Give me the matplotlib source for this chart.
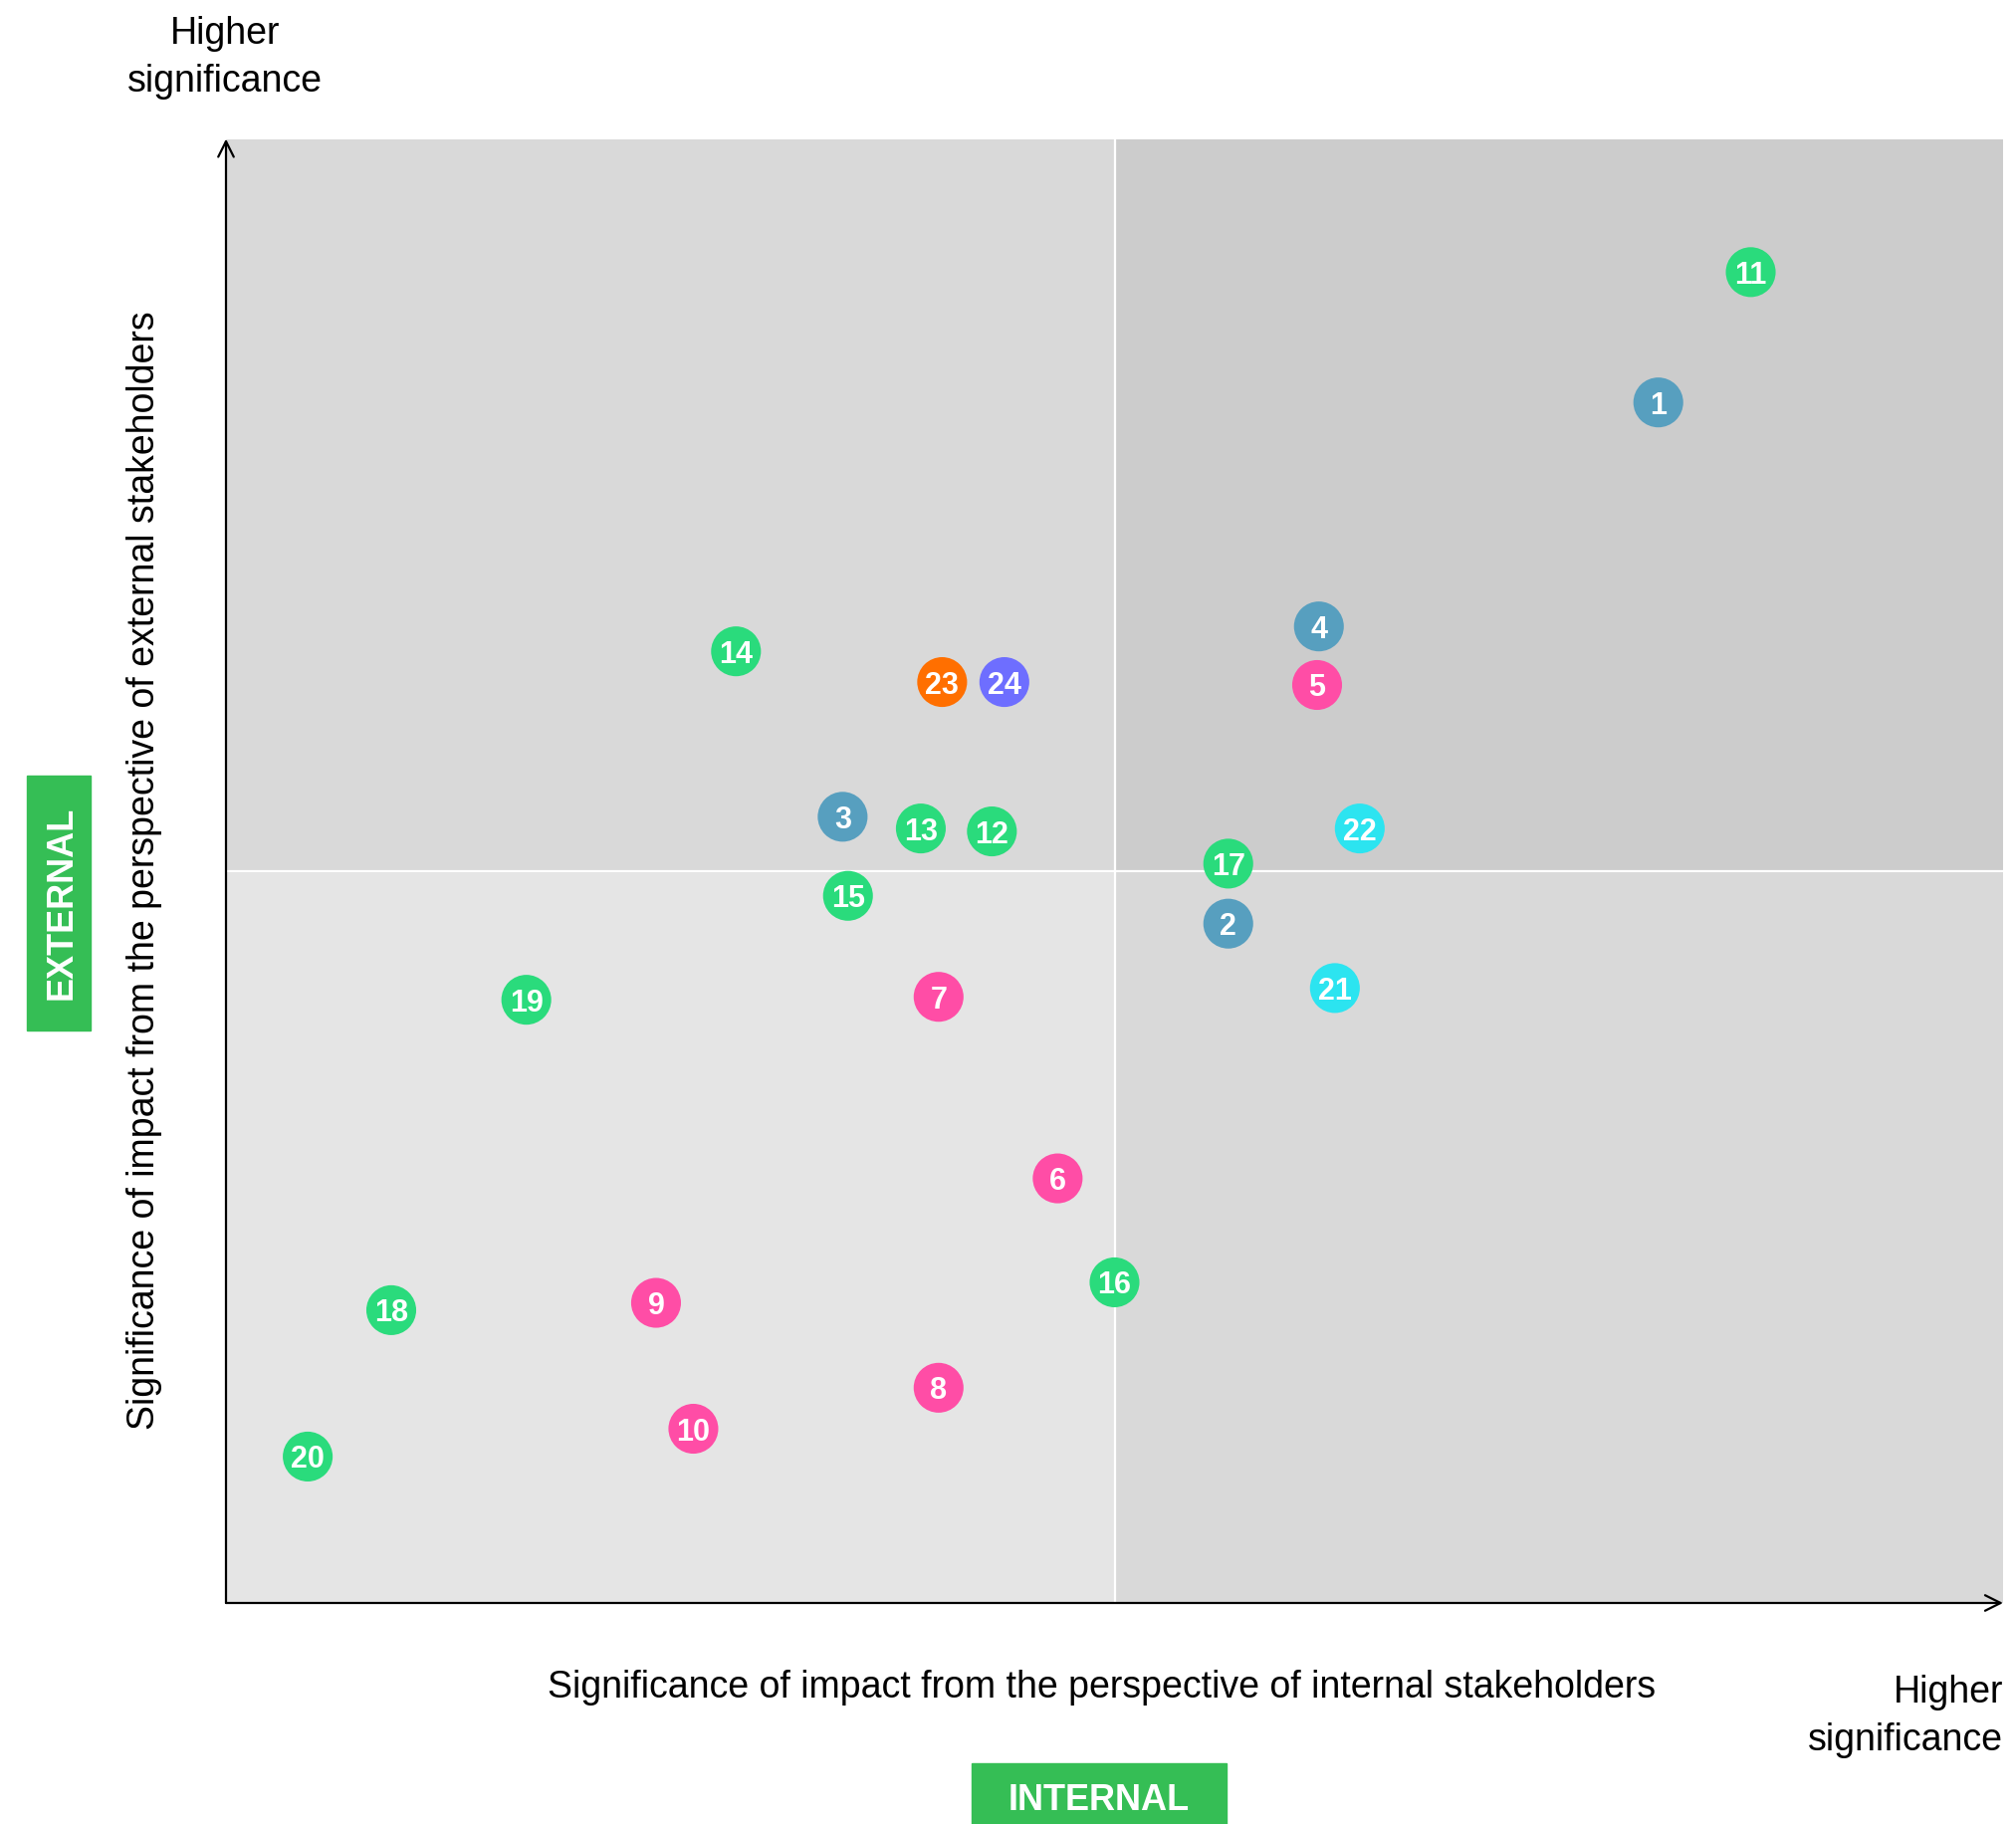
import matplotlib.pyplot as plt
from matplotlib.patches import Rectangle

# topic ids, internal score (x), external score (y), group colour
ids = [11, 1, 4, 5, 22, 17, 2, 21, 14, 23, 24, 3, 13, 12, 15, 19, 7, 6, 16, 18, 9, 8, 10, 20]
internal = [8.58, 8.06, 6.15, 6.14, 6.38, 5.64, 5.64, 6.24, 2.87, 4.03, 4.38, 3.47,
            3.91, 4.31, 3.50, 1.69, 4.01, 4.68, 5.00, 0.93, 2.42, 4.01, 2.63, 0.46]
external = [9.09, 8.20, 6.67, 6.27, 5.29, 5.05, 4.64, 4.20, 6.50, 6.29, 6.29, 5.37,
            5.29, 5.27, 4.83, 4.12, 4.14, 2.90, 2.19, 2.00, 2.05, 1.47, 1.19, 1.00]
groups = ['env', 'gov', 'gov', 'soc', 'cus', 'env', 'gov', 'cus', 'env', 'org', 'tec', 'gov',
          'env', 'env', 'env', 'env', 'soc', 'soc', 'env', 'env', 'soc', 'soc', 'soc', 'env']

group_colors = {
    'env': '#2ADB7C',
    'gov': '#579FBF',
    'soc': '#FF4DA6',
    'cus': '#2CE4F0',
    'org': '#FF6F00',
    'tec': '#6E6EFF',
}
label_green = '#35BE55'

W, H = 2025, 1832
fig = plt.figure(figsize=(W / 100, H / 100), dpi=100)


def fx(x):
    return x / W


def fy(y):
    return 1 - y / H


ax = fig.add_axes([fx(227), fy(1610), (2012 - 227) / W, (1610 - 139.5) / H])
ax.set_xlim(0, 10)
ax.set_ylim(0, 10)
ax.axis('off')

# quadrant shading
ax.add_patch(Rectangle((0, 0), 5, 5, color='#E5E5E5', zorder=0))
ax.add_patch(Rectangle((5, 0), 5, 5, color='#D9D9D9', zorder=0))
ax.add_patch(Rectangle((0, 5), 5, 5, color='#D9D9D9', zorder=0))
ax.add_patch(Rectangle((5, 5), 5, 5, color='#CCCCCC', zorder=0))
ax.axvline(5, color='white', lw=1.6, zorder=1)
ax.axhline(5, color='white', lw=1.6, zorder=1)

# axis arrows
arrow = dict(arrowstyle='->', lw=1.6, color='black', mutation_scale=28, shrinkA=0, shrinkB=0)
ax.annotate('', xy=(10, 0), xytext=(0, 0), arrowprops=arrow, annotation_clip=False)
ax.annotate('', xy=(0, 10), xytext=(0, 0), arrowprops=arrow, annotation_clip=False)

ax.scatter(internal, external, s=1300, c=[group_colors[g] for g in groups],
           edgecolors='none', zorder=3, clip_on=False)
for i, x, y in zip(ids, internal, external):
    ax.text(x, y, str(i), ha='center', va='center_baseline', color='white',
            fontsize=22, fontweight='bold', family='Liberation Sans', zorder=4)

font = dict(family='Liberation Sans', fontsize=27, color='black')
fig.text(fx(226), fy(58), 'Higher\nsignificance', ha='center', va='center',
         linespacing=1.4, **font)
fig.text(fx(2012), fy(1724), 'Higher\nsignificance', ha='right', va='center',
         multialignment='right', linespacing=1.4, **font)
fig.text(fx(1107), fy(1695), 'Significance of impact from the perspective of internal stakeholders',
         ha='center', va='center', **font)
fig.text(fx(145), fy(874), 'Significance of impact from the perspective of external stakeholders',
         ha='center', va='center', rotation=90, **font)

# group tags
fig.patches.append(Rectangle((fx(27), fy(1035)), 64 / W, 256 / H, color=label_green,
                             transform=fig.transFigure, figure=fig))
fig.text(fx(62), fy(907), 'EXTERNAL', ha='center', va='center', rotation=90, color='white',
         fontsize=26, fontweight='bold', family='Liberation Sans')
fig.patches.append(Rectangle((fx(976), fy(1835)), 256 / W, 64 / H, color=label_green,
                             transform=fig.transFigure, figure=fig))
fig.text(fx(1104), fy(1808), 'INTERNAL', ha='center', va='center', color='white',
         fontsize=26, fontweight='bold', family='Liberation Sans')

fig.savefig('out.png', dpi=100)
